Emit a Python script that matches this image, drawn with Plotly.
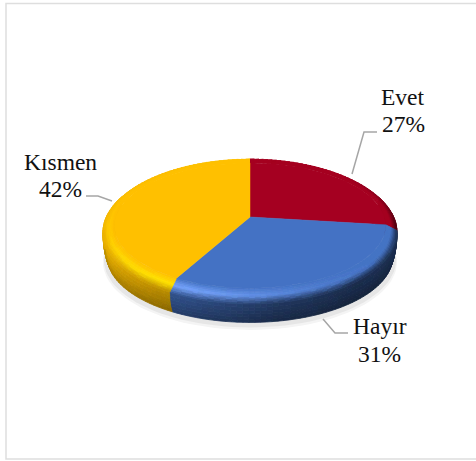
import math
import plotly.graph_objects as go

# ---- data ----
categories = ["Evet", "Hayır", "Kısmen"]
values = [27, 31, 42]

# ---- styling ----
base_colors = [(165, 0, 33), (68, 114, 196), (255, 192, 0)]
glow_colors = [(205, 30, 60), (118, 165, 255), (255, 226, 0)]
leader_color = "#A6A6A6"
text_color = "#111111"
W, H = 476, 461

# pie geometry in pixel-like axis units
CX, CY = 250, 217
RX, RY, PERSP = 145.4, 66.5, 0.147
S_IN, D_RIM, D_WALL, S_FOOT = 0.925, 9, 30, 0.972
STEP = 2.0

shade_pts = [(0, 1.0), (45, .99), (72, .80), (95, .44), (140, .40), (170, .48),
             (205, .70), (240, .88), (280, .97), (360, 1.0)]


def lerp(a, b, t):
    return a + (b - a) * t


def mix(c1, c2, t):
    return tuple(lerp(x, y, t) for x, y in zip(c1, c2))


def shade_at(a):
    a %= 360
    for (a0, f0), (a1, f1) in zip(shade_pts, shade_pts[1:]):
        if a0 <= a <= a1:
            return lerp(f0, f1, (a - a0) / (a1 - a0))
    return 1.0


def project(a, s=1.0, extra=0.0):
    """a: clockwise degrees from 12 o'clock, s: radial fraction, extra: drop."""
    u = math.sin(math.radians(a)) * s
    v = math.cos(math.radians(a)) * s
    den = 1 + PERSP * v
    return CX + RX * u / den, CY - RY * v / den + extra


def front(a):
    return (1 - math.cos(math.radians(a))) / 2


def key(c):
    return "rgb(%d,%d,%d)" % tuple(min(255, round(x / 4) * 4) for x in c)


total = sum(values)
shares = [v / total for v in values]
edges = [0.0]
for sh in shares:
    edges.append(edges[-1] + sh * 360)


def wall_point(a, t):
    # rounded foot: the wall pulls in a little as it reaches the ground
    s = lerp(1, S_FOOT, t ** 2.2)
    return project(a, s, lerp(D_RIM * front(a), D_WALL, t))


def ring_bins(a0, a1, idx, bins):
    base, glow = base_colors[idx], glow_colors[idx]
    n = max(1, int((a1 - a0) / STEP))
    for i in range(n):
        p = a0 + (a1 - a0) * i / n
        q = a0 + (a1 - a0) * (i + 1) / n
        m = (p + q) / 2
        f = shade_at(m)
        g = math.exp(-((m - 212) / 46) ** 2)
        dark = tuple(x * f for x in base)
        hi = mix(base, glow, g)
        # wall
        if math.cos(math.radians(m)) < 0.35:
            for j in range(6):
                t0, t1 = j / 6, (j + 1) / 6
                col = tuple(x * lerp(1, .74, (t0 + t1) / 2) for x in dark)
                quad = [wall_point(p, t0), wall_point(q, t0), wall_point(q, t1), wall_point(p, t1)]
                bins[0].setdefault(key(col), []).append(quad)
        # bevelled rim
        for j in range(10):
            t0, t1 = j / 10, (j + 1) / 10
            tm = (t0 + t1) / 2
            col = mix(base, hi, tm / .5) if tm < .5 else mix(hi, dark, (tm - .5) / .5)
            s0, s1 = lerp(S_IN, 1, t0), lerp(S_IN, 1, t1)
            quad = [project(p, s0, D_RIM * front(p) * t0), project(q, s0, D_RIM * front(q) * t0),
                    project(q, s1, D_RIM * front(q) * t1), project(p, s1, D_RIM * front(p) * t1)]
            bins[1].setdefault(key(col), []).append(quad)


fig = go.Figure()


def poly_trace(polys, color, lw=0.8):
    xs, ys = [], []
    for poly in polys:
        xs += [pt[0] for pt in poly] + [poly[0][0], None]
        ys += [pt[1] for pt in poly] + [poly[0][1], None]
    fig.add_trace(go.Scatter(x=xs, y=ys, mode="lines", fill="toself", fillcolor=color,
                             line=dict(color=color, width=lw), hoverinfo="skip", showlegend=False))


# soft shadow below the disc
for grow, off, col in [(1.0, 5, "rgb(244,244,244)"), (0.994, 3, "rgb(230,230,230)")]:
    poly_trace([[project(a, grow, D_WALL + off) for a in range(0, 360, 3)]], col, 0)

bins = ({}, {})
for i in range(len(values)):
    ring_bins(edges[i], edges[i + 1], i, bins)
for group in bins:
    for col, polys in group.items():
        poly_trace(polys, col)

# flat top faces, one per category
for i, name in enumerate(categories):
    n = max(2, int((edges[i + 1] - edges[i]) / STEP))
    pts = [(CX, CY)] + [project(lerp(edges[i], edges[i + 1], k / n), S_IN) for k in range(n + 1)]
    poly_trace([pts], "rgb(%d,%d,%d)" % base_colors[i], 0.5)

# leader lines
leaders = [
    [(352, 174), (364, 132), (377, 132)],
    [(323, 319), (335, 333), (348, 333)],
    [(112, 201), (98, 196), (86, 196)],
]
for pts in leaders:
    fig.add_trace(go.Scatter(x=[p[0] for p in pts], y=[p[1] for p in pts], mode="lines",
                             line=dict(color=leader_color, width=1.5), hoverinfo="skip", showlegend=False))

# labels
label_pos = [(403, 97, 124), (379.5, 326, 354), (60, 162, 189)]
for name, v, (lx, y1, y2) in zip(categories, values, label_pos):
    for text, ly in ((name, y1), (f"{v}%", y2)):
        fig.add_annotation(x=lx, y=ly, text=text, showarrow=False, xanchor="center", yanchor="middle",
                           font=dict(family="Liberation Serif", size=23.5, color=text_color))

fig.update_layout(
    width=W, height=H, margin=dict(l=0, r=0, t=0, b=0), showlegend=False,
    paper_bgcolor="white", plot_bgcolor="white",
    xaxis=dict(range=[0, W], visible=False, fixedrange=True),
    yaxis=dict(range=[H, 0], visible=False, fixedrange=True),
    shapes=[dict(type="rect", x0=6, y0=3.5, x1=W + 5, y1=459, line=dict(color="#DEDEDE", width=1.5), layer="below")],
)
fig.write_html("out.html", config={"displayModeBar": False},
               post_script="document.body.style.margin='0';document.body.style.overflow='hidden';")
